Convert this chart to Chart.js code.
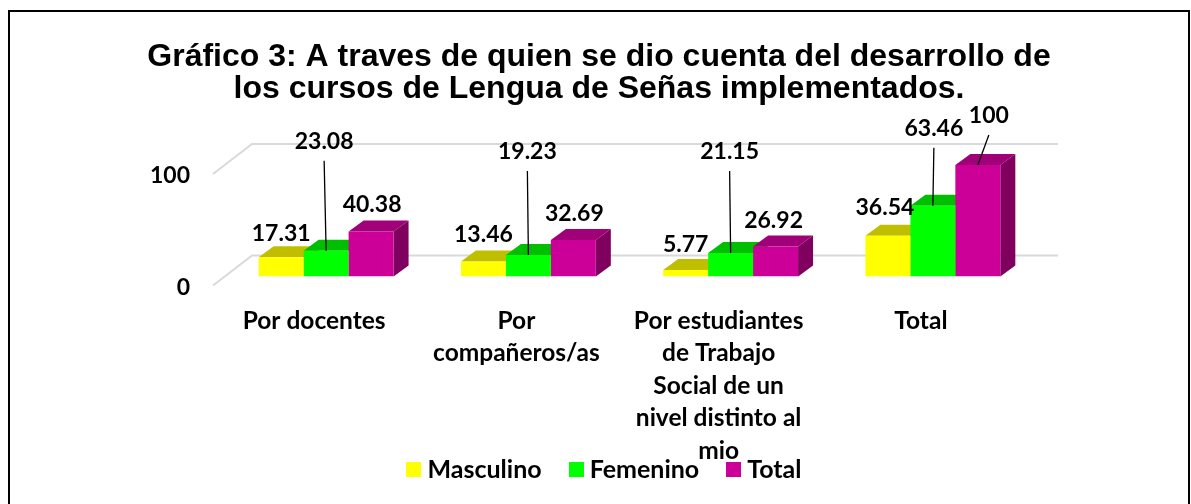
<!DOCTYPE html>
<html><head><meta charset="utf-8">
<style>html,body{margin:0;padding:0;background:#fff}#w{width:1191px;height:504px;position:relative}</style>
<script src="https://cdn.jsdelivr.net/npm/chart.js@4"></script></head>
<body><div id="w"><canvas id="c" width="1191" height="504"></canvas></div>
<script>
const categories = ["Por docentes", ["Por","compañeros/as"], ["Por estudiantes","de Trabajo","Social de un","nivel distinto al","mio"], "Total"];
const masculino = [17.31, 13.46, 5.77, 36.54];
const femenino = [23.08, 19.23, 21.15, 63.46];
const total = [40.38, 32.69, 26.92, 100];
const yTicks = [0, 100];
const titleLines = ["Gráfico 3: A traves de quien se dio cuenta del desarrollo de","los cursos de Lengua de Señas implementados."];

const colors = ["#ffff00","#00ff00","#cc0099"];
const topColors = ["#bfbf00","#00bf00","#a00078"];
const sideColors = ["#a0a000","#00a000","#800060"];
const DX = 15, DY = 11;
const FONT = "bold 23px Lato";
const labelFont = {family:"Lato",weight:"bold",size:23};

// label placement: [dx from bar centre, dy from bar front top]
const labelPos = [
 [[0,-24],[0,-27],[0,-25],[-3,-28]],
 [[-2,-109],[-1,-103],[-1,-101],[1,-77]],
 [[1,-27],[1,-26],[-2,-26],[11,-49]]
];
const leaders = {"1,0":1,"1,1":1,"1,2":1,"1,3":1,"2,3":1};

function swatch(c){const s=document.createElement('canvas');s.width=15;s.height=15;const x=s.getContext('2d');x.fillStyle=c;x.fillRect(0,0,15,15);return s;}

const threeD = {
  id:'threeD',
  afterLayout(chart){ chart.legend.left+=8.25; chart.legend.right+=8.25; chart.scales.x.bottom=chart.height; },
  beforeDatasetsDraw(chart){
    const {ctx,scales:{x,y}} = chart;
    ctx.save();
    ctx.strokeStyle="#d9d9d9"; ctx.lineWidth=2;
    const left=x.left-12, wallX=x.left+27, right=x.right+24;
    yTicks.forEach(v=>{
      const p=y.getPixelForValue(v);
      ctx.beginPath();ctx.moveTo(left,p+9);ctx.lineTo(wallX,p-21);ctx.lineTo(right,p-21);ctx.stroke();
    });
    chart.data.datasets.forEach((ds,i)=>{
      chart.getDatasetMeta(i).data.forEach(b=>{
        const l=b.x-b.width/2,r=b.x+b.width/2,t=b.y,bo=b.base;
        ctx.fillStyle=topColors[i];
        ctx.beginPath();ctx.moveTo(l,t);ctx.lineTo(r,t);ctx.lineTo(r+DX,t-DY);ctx.lineTo(l+DX,t-DY);ctx.closePath();ctx.fill();
        ctx.fillStyle=sideColors[i];
        ctx.beginPath();ctx.moveTo(r,t);ctx.lineTo(r+DX,t-DY);ctx.lineTo(r+DX,bo-DY);ctx.lineTo(r,bo);ctx.closePath();ctx.fill();
      });
    });
    ctx.restore();
  },
  afterDatasetsDraw(chart){
    const {ctx} = chart;
    ctx.save();
    ctx.font=FONT;ctx.fillStyle="#000";ctx.textAlign="center";ctx.textBaseline="middle";
    chart.data.datasets.forEach((ds,i)=>{
      chart.getDatasetMeta(i).data.forEach((b,j)=>{
        const o=labelPos[i][j], lx=b.x+o[0], ly=b.y+o[1];
        if(leaders[i+","+j]){ctx.strokeStyle="#000";ctx.lineWidth=1.3;ctx.beginPath();ctx.moveTo(lx,ly+19);ctx.lineTo(b.x,b.y);ctx.stroke();}
        ctx.fillText(String(ds.data[j]),lx,ly);
      });
    });
    ctx.restore();
  },
  afterDraw(chart){
    const {ctx}=chart;ctx.save();ctx.strokeStyle="#000";ctx.lineWidth=2;
    ctx.strokeRect(9,11,1180,520);ctx.restore();
  }
};

new Chart(document.getElementById('c'),{
  type:'bar',
  data:{labels:categories,datasets:[
    {label:"Masculino",data:masculino,backgroundColor:colors[0],pointStyle:swatch(colors[0])},
    {label:"Femenino",data:femenino,backgroundColor:colors[1],pointStyle:swatch(colors[1])},
    {label:"Total",data:total,backgroundColor:colors[2],pointStyle:swatch(colors[2])}
  ]},
  options:{
    responsive:false,animation:false,
    layout:{padding:{left:7,right:0,top:41,bottom:12}},
    datasets:{bar:{categoryPercentage:0.667,barPercentage:1,borderWidth:0}},
    scales:{
      x:{grid:{display:false},border:{display:false},
         ticks:{color:"#000",font:{family:"Lato",weight:"bold",size:24.5,lineHeight:1.33},maxRotation:0,autoSkip:false,labelOffset:-12,padding:20},
         afterFit(a){a.height=147;}},
      y:{min:0,max:100,grid:{display:false},border:{display:false},
         afterBuildTicks(a){a.ticks=yTicks.map(v=>({value:v}));},
         ticks:{color:"#000",font:labelFont,labelOffset:11,padding:27},
         afterFit(a){a.width=218;}},
      pad:{position:'right',display:true,grid:{display:false},border:{display:false},ticks:{display:false},afterFit(a){a.width=157;}}
    },
    plugins:{
      title:{display:true,text:titleLines,color:"#000",font:{family:"Liberation Sans",weight:"bold",size:32,lineHeight:1},padding:{top:0,bottom:60}},
      legend:{position:'bottom',labels:{usePointStyle:true,pointStyleWidth:2,boxHeight:15,font:{family:"Lato",weight:"bold",size:25},color:"#000",padding:33.5}},
      tooltip:{enabled:false}
    }
  },
  plugins:[threeD]
});
</script></body></html>
